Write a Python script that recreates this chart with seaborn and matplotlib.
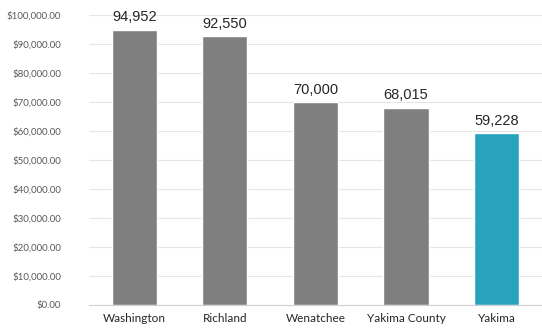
import matplotlib
matplotlib.use("Agg")
import matplotlib.pyplot as plt
import seaborn as sns
import pandas as pd
from matplotlib.ticker import FuncFormatter, FixedLocator

places = ["Washington", "Richland", "Wenatchee", "Yakima County", "Yakima"]
income = [94952, 92550, 70000, 68015, 59228]
bar_colors = ["#7f7f7f", "#7f7f7f", "#7f7f7f", "#7f7f7f", "#27a3bd"]

sns.set_style("white")
plt.rcParams["font.family"] = ["Lato", "DejaVu Sans"]

df = pd.DataFrame({"place": places, "income": income})

fig = plt.figure(figsize=(5.42, 3.31), dpi=100)
ax = fig.add_axes([0.164, 0.079, 0.836, 0.876])

sns.barplot(data=df, x="place", y="income", hue="place", palette=bar_colors,
            legend=False, width=0.5, ax=ax, saturation=1)

ax.set_ylim(0, 100000)
ax.set_xlim(-0.5, 4.5)
ax.yaxis.set_major_locator(FixedLocator(range(0, 100001, 10000)))
ax.yaxis.set_major_formatter(FuncFormatter(lambda v, p: f"${v:,.2f}"))
ax.grid(axis="y", color="#e6e6e6", linewidth=0.8)
ax.set_axisbelow(True)

for s in ["top", "right", "left"]:
    ax.spines[s].set_visible(False)
ax.spines["bottom"].set_color("#d0d0d0")
ax.spines["bottom"].set_linewidth(0.8)

ax.tick_params(axis="y", length=0, labelsize=7, labelcolor="#595959", pad=20)
ax.tick_params(axis="x", length=0, labelsize=8.5, labelcolor="#262626", pad=6)
ax.set_xlabel("")
ax.set_ylabel("")

# category separator ticks below the axis
ax.set_xticks([i - 0.5 for i in range(6)], minor=True)
ax.tick_params(axis="x", which="minor", length=4, color="#c8c8c8", width=0.8)

for i, v in enumerate(income):
    ax.text(i, v + 1800, f"{v:,}", ha="center", va="bottom",
            fontsize=10.5, color="#262626",
            family=["Liberation Sans", "DejaVu Sans"])

fig.savefig("out.png", dpi=100)
